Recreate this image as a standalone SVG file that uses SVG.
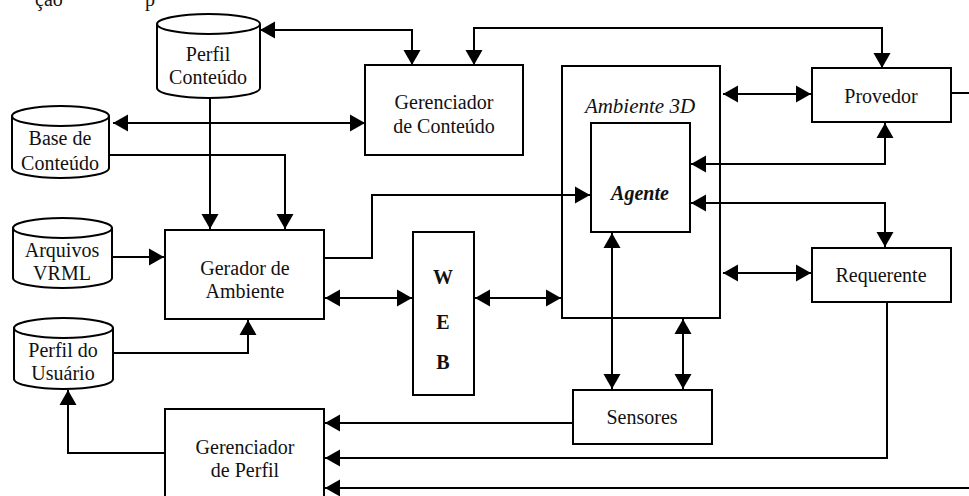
<svg xmlns="http://www.w3.org/2000/svg" width="969" height="496" viewBox="0 0 969 496">
<defs>
<marker id="ah" markerUnits="userSpaceOnUse" markerWidth="16" markerHeight="18" refX="15" refY="8.5" orient="auto-start-reverse" viewBox="0 0 16 17">
<path d="M0,0 L15,8.5 L0,17 Z" fill="#000"/>
</marker>
</defs>
<rect width="969" height="496" fill="#fff"/>
<g font-family="Liberation Serif" font-size="20" fill="#111">
<text x="35" y="6">&#231;&#227;o</text>
<text x="145" y="6">p</text>
</g>

<g id="connectors" fill="none" stroke="#000" stroke-width="2">
<path marker-start="url(#ah)" marker-end="url(#ah)" d="M260,30 H412 V65"/>
<path marker-start="url(#ah)" marker-end="url(#ah)" d="M113,123 H365"/>
<path marker-start="url(#ah)" marker-end="url(#ah)" d="M474,65 V28 H882 V68"/>
<path marker-end="url(#ah)" d="M210,98 V229"/>
<path marker-end="url(#ah)" d="M109,155 H285 V229"/>
<path marker-end="url(#ah)" d="M110,257 H164"/>
<path marker-end="url(#ah)" d="M113,353 H248 V320"/>
<path marker-end="url(#ah)" d="M324,258 H372 V195 H590"/>
<path marker-start="url(#ah)" marker-end="url(#ah)" d="M325,298 H412"/>
<path marker-start="url(#ah)" marker-end="url(#ah)" d="M475,298 H561"/>
<path marker-start="url(#ah)" marker-end="url(#ah)" d="M723,94 H811"/>
<path marker-start="url(#ah)" marker-end="url(#ah)" d="M691,164 H885 V123"/>
<path marker-start="url(#ah)" marker-end="url(#ah)" d="M691,203 H885 V247"/>
<path marker-start="url(#ah)" marker-end="url(#ah)" d="M723,273 H811"/>
<path marker-start="url(#ah)" marker-end="url(#ah)" d="M612,233 V389"/>
<path marker-start="url(#ah)" marker-end="url(#ah)" d="M683,319 V389"/>
<path marker-end="url(#ah)" d="M573,423 H325"/>
<path marker-end="url(#ah)" d="M887,302 V458 H325"/>
<path marker-end="url(#ah)" d="M969,488 H325"/>
<path marker-end="url(#ah)" d="M165,453 H68 V390"/>
<path d="M951,93 H969"/>
</g>

<g fill="#fff" stroke="#000" stroke-width="2">
<g id="perfil-conteudo">
<path d="M157,24 V88 A51.5,10 0 0 0 260,88 V24"/>
<ellipse cx="208.5" cy="24" rx="51.5" ry="10"/>
</g>
<g id="base-conteudo">
<path d="M12,116 V168 A48.5,10 0 0 0 109,168 V116"/>
<ellipse cx="60.5" cy="116" rx="48.5" ry="10"/>
</g>
<g id="arquivos-vrml">
<path d="M13,228 V278 A49.5,10 0 0 0 112,278 V228"/>
<ellipse cx="62.5" cy="228" rx="49.5" ry="10"/>
</g>
<g id="perfil-usuario">
<path d="M14,328 V379 A49.5,10 0 0 0 113,379 V328"/>
<ellipse cx="63.5" cy="328" rx="49.5" ry="10"/>
</g>
<rect id="gerenciador-conteudo" x="365" y="65" width="158" height="90"/>
<rect id="ambiente-3d" x="562" y="66" width="158" height="252" fill="none"/>
<rect id="agente" x="591" y="123" width="99" height="109"/>
<rect id="web" x="413" y="232" width="61" height="163"/>
<rect id="gerador-ambiente" x="165" y="230" width="159" height="89"/>
<rect id="provedor" x="812" y="68" width="139" height="54"/>
<rect id="requerente" x="812" y="248" width="139" height="54"/>
<rect id="sensores" x="573" y="390" width="139" height="54"/>
<rect id="gerenciador-perfil" x="165" y="409" width="159" height="95"/>
</g>

<g font-family="Liberation Serif" font-size="20" fill="#111" text-anchor="middle">
<text x="208" y="61">Perfil</text>
<text x="208" y="84">Conte&#250;do</text>
<text x="60" y="145">Base de</text>
<text x="60" y="170">Conte&#250;do</text>
<text x="62" y="257">Arquivos</text>
<text x="62" y="280">VRML</text>
<text x="63" y="357">Perfil do</text>
<text x="63" y="380">Usu&#225;rio</text>
<text x="444" y="109">Gerenciador</text>
<text x="444" y="133">de Conte&#250;do</text>
<text x="640" y="113" font-size="21" font-style="italic">Ambiente 3D</text>
<text x="640" y="200" font-style="italic" font-weight="bold">Agente</text>
<text x="443" y="284" font-weight="bold">W</text>
<text x="443" y="329" font-weight="bold">E</text>
<text x="443" y="369" font-weight="bold">B</text>
<text x="245" y="275">Gerador de</text>
<text x="245" y="298">Ambiente</text>
<text x="881" y="103">Provedor</text>
<text x="881" y="282">Requerente</text>
<text x="642" y="424">Sensores</text>
<text x="245" y="454">Gerenciador</text>
<text x="245" y="477">de Perfil</text>
</g>
</svg>
